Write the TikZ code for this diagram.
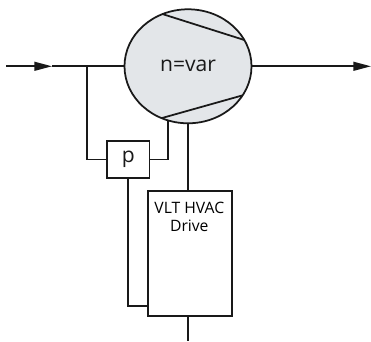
\documentclass[tikz,border=0pt]{standalone}
\usepackage{fontspec}
\setmainfont{Open Sans}
\usepackage{xcolor}
\usetikzlibrary{arrows.meta, shapes.geometric}
\definecolor{casing}{HTML}{E3E6E9}
\tikzset{
  line/.style={line width=1.5pt, black!90},
  flow/.style={line, -{Triangle[length=15pt, width=7.5pt]}},
  unit/.style={draw, line width=1.5pt, black!90, fill=white, inner sep=0pt, outer sep=0pt},
}

\begin{document}
\begin{tikzpicture}[x=0.03cm, y=0.03cm, font=\fontsize{13.4pt}{15.5pt}\selectfont]
  \useasboundingbox (0,0) rectangle (371,341);

  % compressor
  \node[ellipse, unit, fill=casing, minimum width=3.81cm, minimum height=3.42cm,
    font=\fontsize{18pt}{20pt}\selectfont] (compressor) at (188,274.7) {n=var};
  \draw[line] (compressor.116.7) -- (compressor.25.2);
  \draw[line] (compressor.243.4) -- (compressor.332.6);

  \node[unit, minimum width=1.28cm, minimum height=1.13cm,
    font=\fontsize{18pt}{20pt}\selectfont] (pbox) at (128.25,181.5) {p};
  \node[unit, minimum width=2.5cm, minimum height=3.76cm] (drive) at (190,87.7) {};
  \node[align=center, anchor=north, inner sep=0pt] (drivetext) at (189.3,139.5) {VLT HVAC\\Drive};

  \coordinate (inlet) at (6,274.7);
  \coordinate (inarrow) at (52,274.7);
  \coordinate (tee) at (86.7,274.7);
  \coordinate (outlet) at (371,274.7);
  \coordinate (sense) at (drive.west |- 0,35.25);
  \coordinate (supply) at (188,0);

  % suction and discharge
  \draw[flow] (inlet) -- (inarrow);
  \draw[line] (inarrow) -- (compressor.west);
  \draw[flow] (compressor.east) -- (outlet);

  % control lines
  \draw[line] (tee) |- (pbox.west);
  \draw[line] (pbox.east) -| (compressor.250.4);
  \draw[line] (pbox.south) |- (sense);
  \draw[line] (compressor.south) -- (compressor.south |- drive.north);
  \draw[line] (supply |- drive.south) -- (supply);
\end{tikzpicture}
\end{document}
